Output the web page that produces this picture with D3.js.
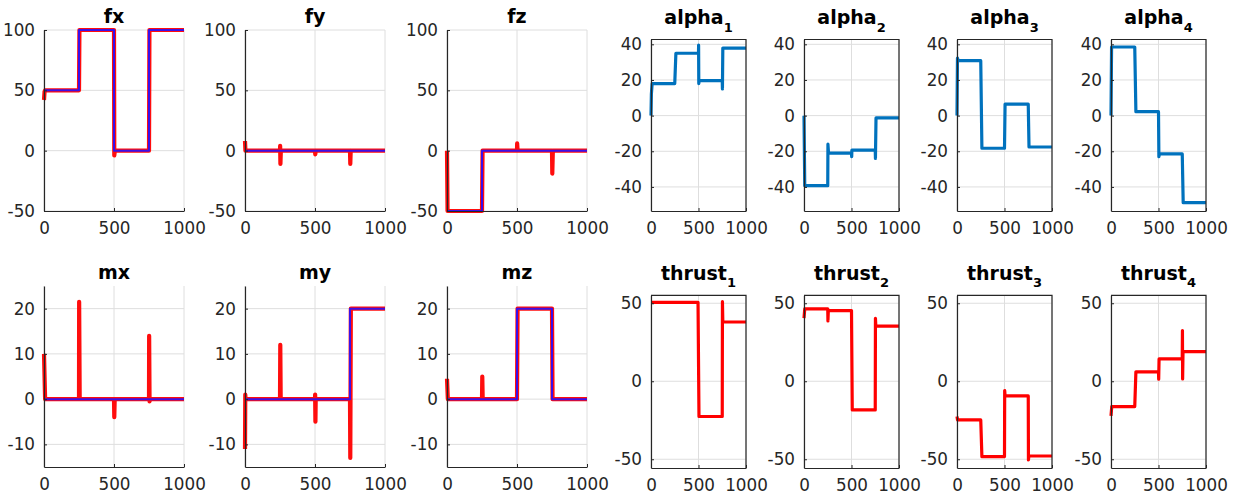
<!DOCTYPE html>
<html>
<head>
<meta charset="utf-8">
<script src="https://cdn.jsdelivr.net/npm/d3@7"></script>
<style>
  body { margin: 0; background: #fff; }
  svg { display: block; }
  text { font-family: "DejaVu Sans", sans-serif; fill: #262626; }
  .title { font-weight: bold; fill: #000; }
</style>
</head>
<body>
<svg id="fig" width="1237" height="495"></svg>
<script>
// ---- data (time, value) ----
var xTicks = [0, 500, 1000];
var forceTicks = [-50, 0, 50, 100];
var momentTicks = [-10, 0, 10, 20];
var alphaTicks = [-40, -20, 0, 20, 40];
var thrustTicks = [-50, 0, 50];

var fxRef = [[0,50],[250,50],[250,100],[500,100],[500,0],[750,0],[750,100],[1000,100]];
var fxAct = [[0,42],[4,49],[8,50],[250,50],[253,100],[500,100],[502,-4],[506,0],[750,0],[753,100],[1000,100]];
var fyRef = [[0,0],[1000,0]];
var fyAct = [[0,8],[3,0],[250,0],[251,4],[253,-11],[256,0],[500,0],[502,-3],[505,0],[750,0],[752,-11],[755,0],[1000,0]];
var fzRef = [[0,-50],[250,-50],[250,0],[1000,0]];
var fzAct = [[0,0],[4,-50],[250,-50],[254,0],[500,0],[501,6],[504,0],[750,0],[752,-19],[756,0],[1000,0]];

var mxRef = [[0,0],[1000,0]];
var mxAct = [[0,10],[8,0],[250,0],[251,21.5],[255,0],[500,0],[502,-4],[505,0],[750,0],[751,14],[754,-0.5],[757,0],[1000,0]];
var myRef = [[0,0],[750,0],[750,20],[1000,20]];
var myAct = [[0,-11],[2,1],[4,0],[250,0],[252,12],[255,0],[500,0],[501,1],[503,-5],[505,0],[750,0],[752,-13],[756,20],[1000,20]];
var mzRef = [[0,0],[500,0],[500,20],[750,20],[750,0],[1000,0]];
var mzAct = [[0,4.5],[6,0],[250,0],[252,5],[255,0],[500,0],[504,20],[750,20],[754,0],[1000,0]];

var alpha1 = [[0,0],[4,12],[12,18],[250,18],[262,35],[500,35],[501,39.5],[503,18],[507,19.6],[750,19.6],[752,15],[756,37.9],[1000,37.9]];
var alpha2 = [[0,0],[8,-39.3],[250,-39.3],[252,-16],[258,-21],[500,-21],[502,-23],[504,-19.4],[750,-19.4],[752,-24],[758,-1.3],[1000,-1.3]];
var alpha3 = [[0,0],[5,32.3],[12,30.8],[250,30.8],[262,-18.3],[500,-18.3],[506,6.4],[750,6.4],[758,-17.6],[1000,-17.6]];
var alpha4 = [[0,0],[6,38.5],[250,38.5],[262,2.2],[500,2.2],[504,-23],[510,-21.5],[750,-21.5],[760,-48.8],[1000,-48.8]];

var thrust1 = [[0,50.6],[495,50.6],[505,-22.6],[750,-22.6],[752,51],[756,38],[1000,38]];
var thrust2 = [[0,40.4],[8,46.4],[250,46.4],[252,38.7],[256,45.3],[500,45.3],[508,-18.4],[750,-18.4],[752,40.4],[756,35.3],[1000,35.3]];
var thrust3 = [[0,-22.6],[6,-24.8],[250,-24.8],[262,-48.3],[500,-48.3],[502,-6],[506,-9.4],[750,-9.4],[752,-50.4],[756,-47.9],[1000,-47.9]];
var thrust4 = [[0,-22.2],[8,-16.2],[250,-16.2],[262,6],[500,6],[502,1.3],[506,14.3],[750,14.3],[752,32.5],[754,1.5],[758,19],[1000,19]];

// ---- layout ----
var svg = d3.select("#fig");
var leftX = [44, 245, 447], leftW = 140;
var rightX = [651, 804, 957, 1111], rightW = 95;

var panels = [
  {name: "fx", x: leftX[0], top: 30, bottom: 211, dom: [-50, 100], ticks: forceTicks, box: false, ref: fxRef, act: fxAct},
  {name: "fy", x: leftX[1], top: 30, bottom: 211, dom: [-50, 100], ticks: forceTicks, box: false, ref: fyRef, act: fyAct},
  {name: "fz", x: leftX[2], top: 30, bottom: 211, dom: [-50, 100], ticks: forceTicks, box: false, ref: fzRef, act: fzAct},
  {name: "mx", x: leftX[0], top: 286, bottom: 467, dom: [-15, 25], ticks: momentTicks, box: false, ref: mxRef, act: mxAct},
  {name: "my", x: leftX[1], top: 286, bottom: 467, dom: [-15, 25], ticks: momentTicks, box: false, ref: myRef, act: myAct},
  {name: "mz", x: leftX[2], top: 286, bottom: 467, dom: [-15, 25], ticks: momentTicks, box: false, ref: mzRef, act: mzAct}
];
[alpha1, alpha2, alpha3, alpha4].forEach(function(d, i) {
  panels.push({name: "alpha", sub: String(i + 1), x: rightX[i], top: 39.5, bottom: 211, dom: [-53.5, 42.7],
    ticks: alphaTicks, box: true, line: d, color: "#0072BD", lw: 3.2});
});
[thrust1, thrust2, thrust3, thrust4].forEach(function(d, i) {
  panels.push({name: "thrust", sub: String(i + 1), x: rightX[i], top: 295.3, bottom: 468, dom: [-55.6, 55.1],
    ticks: thrustTicks, box: true, line: d, color: "#FF0000", lw: 3.2});
});

// matlab style labels: plain hyphen, no thousands separator
var fmt = function(d) { return String(d); };

panels.forEach(function(p) {
  var w = p.sub ? rightW : leftW;
  var h = p.bottom - p.top;
  var x = d3.scaleLinear().domain([0, 1000]).range([0, w]);
  var y = d3.scaleLinear().domain(p.dom).range([h, 0]);
  var g = svg.append("g").attr("transform", "translate(" + p.x + "," + p.top + ")");

  // grid
  g.append("g").selectAll("line").data(xTicks).enter().append("line")
    .attr("x1", x).attr("x2", x).attr("y1", 0).attr("y2", h)
    .attr("stroke", "#dedede").attr("stroke-width", 1);
  g.append("g").selectAll("line").data(p.ticks).enter().append("line")
    .attr("x1", 0).attr("x2", w).attr("y1", y).attr("y2", y)
    .attr("stroke", "#dedede").attr("stroke-width", 1);

  var clip = "clip-" + p.name + (p.sub || "");
  g.append("clipPath").attr("id", clip).append("rect")
    .attr("x", -3).attr("y", -3).attr("width", w + 6).attr("height", h + 6);

  var line = d3.line().x(function(d) { return x(d[0]); }).y(function(d) { return y(d[1]); });
  var lines = g.append("g").attr("clip-path", "url(#" + clip + ")");
  if (p.act) {
    lines.append("path").datum(p.act).attr("d", line)
      .attr("fill", "none").attr("stroke", "#ff0000").attr("stroke-width", 4.2)
      .attr("stroke-linejoin", "round").attr("stroke-opacity", 0.95);
    lines.append("path").datum(p.ref).attr("d", line)
      .attr("fill", "none").attr("stroke", "#3a10e8").attr("stroke-width", 2)
      .attr("stroke-linejoin", "round");
  } else {
    lines.append("path").datum(p.line).attr("d", line)
      .attr("fill", "none").attr("stroke", p.color).attr("stroke-width", p.lw)
      .attr("stroke-linejoin", "round");
  }

  // axes
  var ax = g.append("g").attr("transform", "translate(0," + h + ")")
    .call(d3.axisBottom(x).tickValues(xTicks).tickFormat(fmt).tickSizeInner(-3).tickSizeOuter(0).tickPadding(9));
  var ay = g.append("g")
    .call(d3.axisLeft(y).tickValues(p.ticks).tickFormat(fmt).tickSizeInner(-3).tickSizeOuter(0).tickPadding(9));
  [ax, ay].forEach(function(a) {
    a.selectAll(".domain").attr("stroke", "#262626").attr("stroke-width", 1.2);
    a.selectAll(".tick line").attr("stroke", "#262626");
    a.selectAll("text").attr("font-size", "16.8px").attr("font-family", "DejaVu Sans").attr("fill", "#262626");
  });
  ax.selectAll("text").attr("dy", "0.85em");
  if (p.box) {
    g.append("path").attr("d", "M0,0H" + w + "V" + h)
      .attr("fill", "none").attr("stroke", "#262626").attr("stroke-width", 1.2);
  }

  // title
  var t = g.append("text").attr("class", "title")
    .attr("x", w / 2).attr("y", p.sub ? -15.5 : -7.5)
    .attr("text-anchor", "middle").attr("font-size", "19px")
    .text(p.name);
  if (p.sub) {
    t.append("tspan").attr("font-size", "13px").attr("dy", 7.5).text(p.sub);
  }
});
</script>
</body>
</html>
